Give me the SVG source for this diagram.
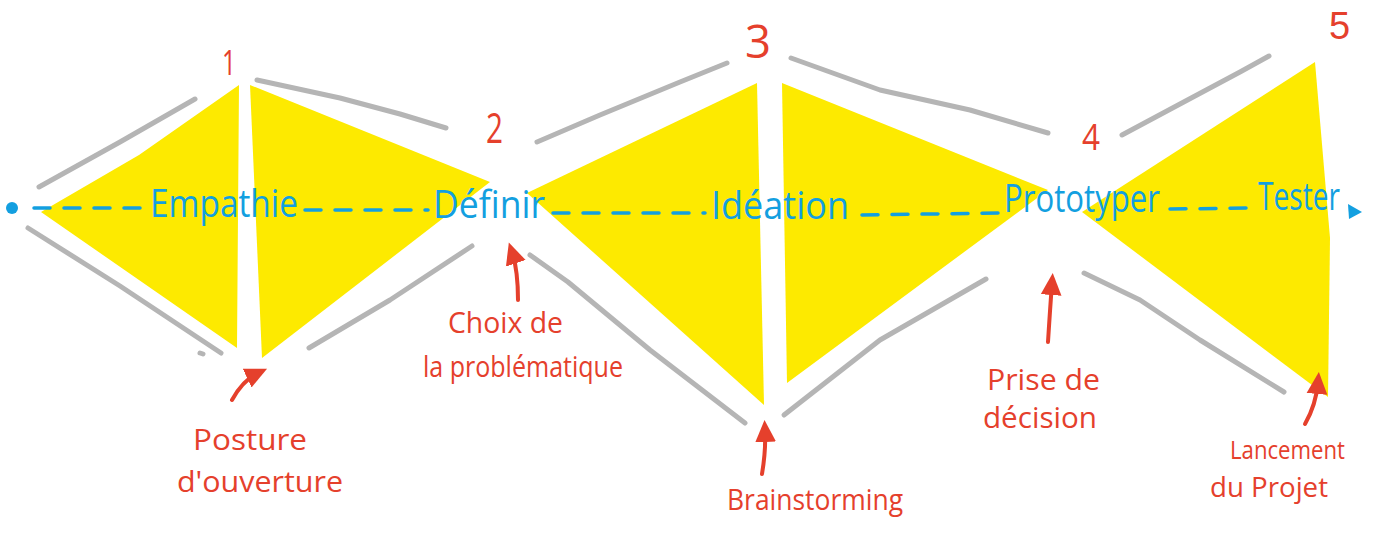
<svg xmlns="http://www.w3.org/2000/svg" width="1373" height="537" viewBox="0 0 1373 537">
<defs>
<style>
.tri{fill:#fdea00;stroke:none}
.gray{fill:none;stroke:#b5b5b5;stroke-width:5;stroke-linecap:round;stroke-linejoin:round}
.flow{fill:none;stroke:#139fe0;stroke-width:3.5;stroke-dasharray:16 14;stroke-linecap:round}
.stage{font-family:"Open Sans","Liberation Sans",sans-serif;font-size:38px;fill:#139fe0}
.num{font-family:"Open Sans","Liberation Sans",sans-serif;fill:#e5402c}
.note{font-family:"Open Sans","Liberation Sans",sans-serif;font-size:30px;fill:#e5402c}
.arr{fill:none;stroke:#e5402c;stroke-width:4;stroke-linecap:round;marker-end:url(#ah)}
</style>
<marker id="ah" markerWidth="6" markerHeight="6" refX="3" refY="3" orient="auto" markerUnits="strokeWidth">
<path d="M0,0.4 L5.5,3 L0,5.6 Z" fill="#e5402c"/>
</marker>
</defs>
<rect width="1373" height="537" fill="#ffffff"/>

<g id="triangles">
<polygon class="tri" points="41,212 139,155 239,85 237,348"/>
<polygon class="tri" points="250,85 490,182 262,358"/>
<polygon class="tri" points="527,193 757,83 764,405"/>
<polygon class="tri" points="782,83 1048,190 787,383"/>
<polygon class="tri" points="1082,212 1315,62 1330,238 1328,397"/>
</g>

<g id="connectors">
<path class="gray" d="M39,187 L120,142 L195,99"/>
<path class="gray" d="M28,228 L120,286 L221,353"/>
<path class="gray" d="M200,353 L203,354"/>
<path class="gray" d="M257,80 L340,98 L400,114 L446,128"/>
<path class="gray" d="M309,348 L390,300 L472,246"/>
<path class="gray" d="M537,142 L600,115 L680,82 L727,63"/>
<path class="gray" d="M530,255 L568,282 L650,350 L745,423"/>
<path class="gray" d="M791,58 L880,90 L970,110 L1048,133"/>
<path class="gray" d="M784,415 L880,340 L986,279"/>
<path class="gray" d="M1122,135 L1180,104 L1240,72 L1269,56"/>
<path class="gray" d="M1084,273 L1140,300 L1200,340 L1284,392"/>
<circle cx="12" cy="208" r="6" fill="#139fe0"/>
<path class="flow" d="M34,208 L145,208"/>
<path class="flow" d="M305,210 L428,210"/>
<path class="flow" d="M553,213 L705,213"/>
<path class="flow" d="M862,215 L998,213"/>
<path class="flow" d="M1170,209 L1256,208"/>
<polygon points="1348,204 1362,212 1349,219" fill="#139fe0"/>
<path class="arr" d="M232,400 Q243,380 258,373"/>
<path class="arr" d="M518,300 Q518,270 512,252"/>
<path class="arr" d="M762,474 Q766,450 765,430"/>
<path class="arr" d="M1048,342 Q1050,310 1052,283"/>
<path class="arr" d="M1305,424 Q1316,405 1318,382"/>
</g>

<g id="stage-empathie"><text class="stage" x="150" y="217" textLength="148" lengthAdjust="spacingAndGlyphs">Empathie</text></g>
<g id="stage-definir"><text class="stage" x="433" y="218" textLength="112" lengthAdjust="spacingAndGlyphs">Définir</text></g>
<g id="stage-ideation"><text class="stage" x="711" y="219" textLength="138" lengthAdjust="spacingAndGlyphs">Idéation</text></g>
<g id="stage-prototyper"><text class="stage" x="1004" y="212" textLength="156" lengthAdjust="spacingAndGlyphs">Prototyper</text></g>
<g id="stage-tester"><text class="stage" x="1258" y="210" textLength="82" lengthAdjust="spacingAndGlyphs">Tester</text></g>

<g id="numbers">
<text class="num" x="222" y="75" font-size="34" textLength="14" lengthAdjust="spacingAndGlyphs">1</text>
<text class="num" x="486" y="143" font-size="42" textLength="17" lengthAdjust="spacingAndGlyphs">2</text>
<text class="num" x="745" y="58" font-size="45" textLength="26" lengthAdjust="spacingAndGlyphs">3</text>
<text class="num" x="1082" y="150" font-size="37" textLength="18" lengthAdjust="spacingAndGlyphs">4</text>
<text class="num" x="1329" y="39" style="font-size:38px;font-family:'Liberation Sans',sans-serif">5</text>
</g>

<g id="note-posture">
<text class="note" x="193" y="450" textLength="114" lengthAdjust="spacingAndGlyphs">Posture</text>
<text class="note" x="177" y="492" textLength="166" lengthAdjust="spacingAndGlyphs">d'ouverture</text>
</g>
<g id="note-choix">
<text class="note" x="448" y="333" textLength="115" lengthAdjust="spacingAndGlyphs">Choix de</text>
<text class="note" x="423" y="377" textLength="200" lengthAdjust="spacingAndGlyphs">la problématique</text>
</g>
<g id="note-brainstorming">
<text class="note" x="727" y="510" textLength="176" lengthAdjust="spacingAndGlyphs">Brainstorming</text>
</g>
<g id="note-decision">
<text class="note" x="987" y="390" textLength="113" lengthAdjust="spacingAndGlyphs">Prise de</text>
<text class="note" x="983" y="428" textLength="114" lengthAdjust="spacingAndGlyphs">décision</text>
</g>
<g id="note-lancement">
<text class="note" x="1230" y="459" style="font-size:25px" textLength="115" lengthAdjust="spacingAndGlyphs">Lancement</text>
<text class="note" x="1210" y="497" style="font-size:27px" textLength="118" lengthAdjust="spacingAndGlyphs">du Projet</text>
</g>
</svg>
